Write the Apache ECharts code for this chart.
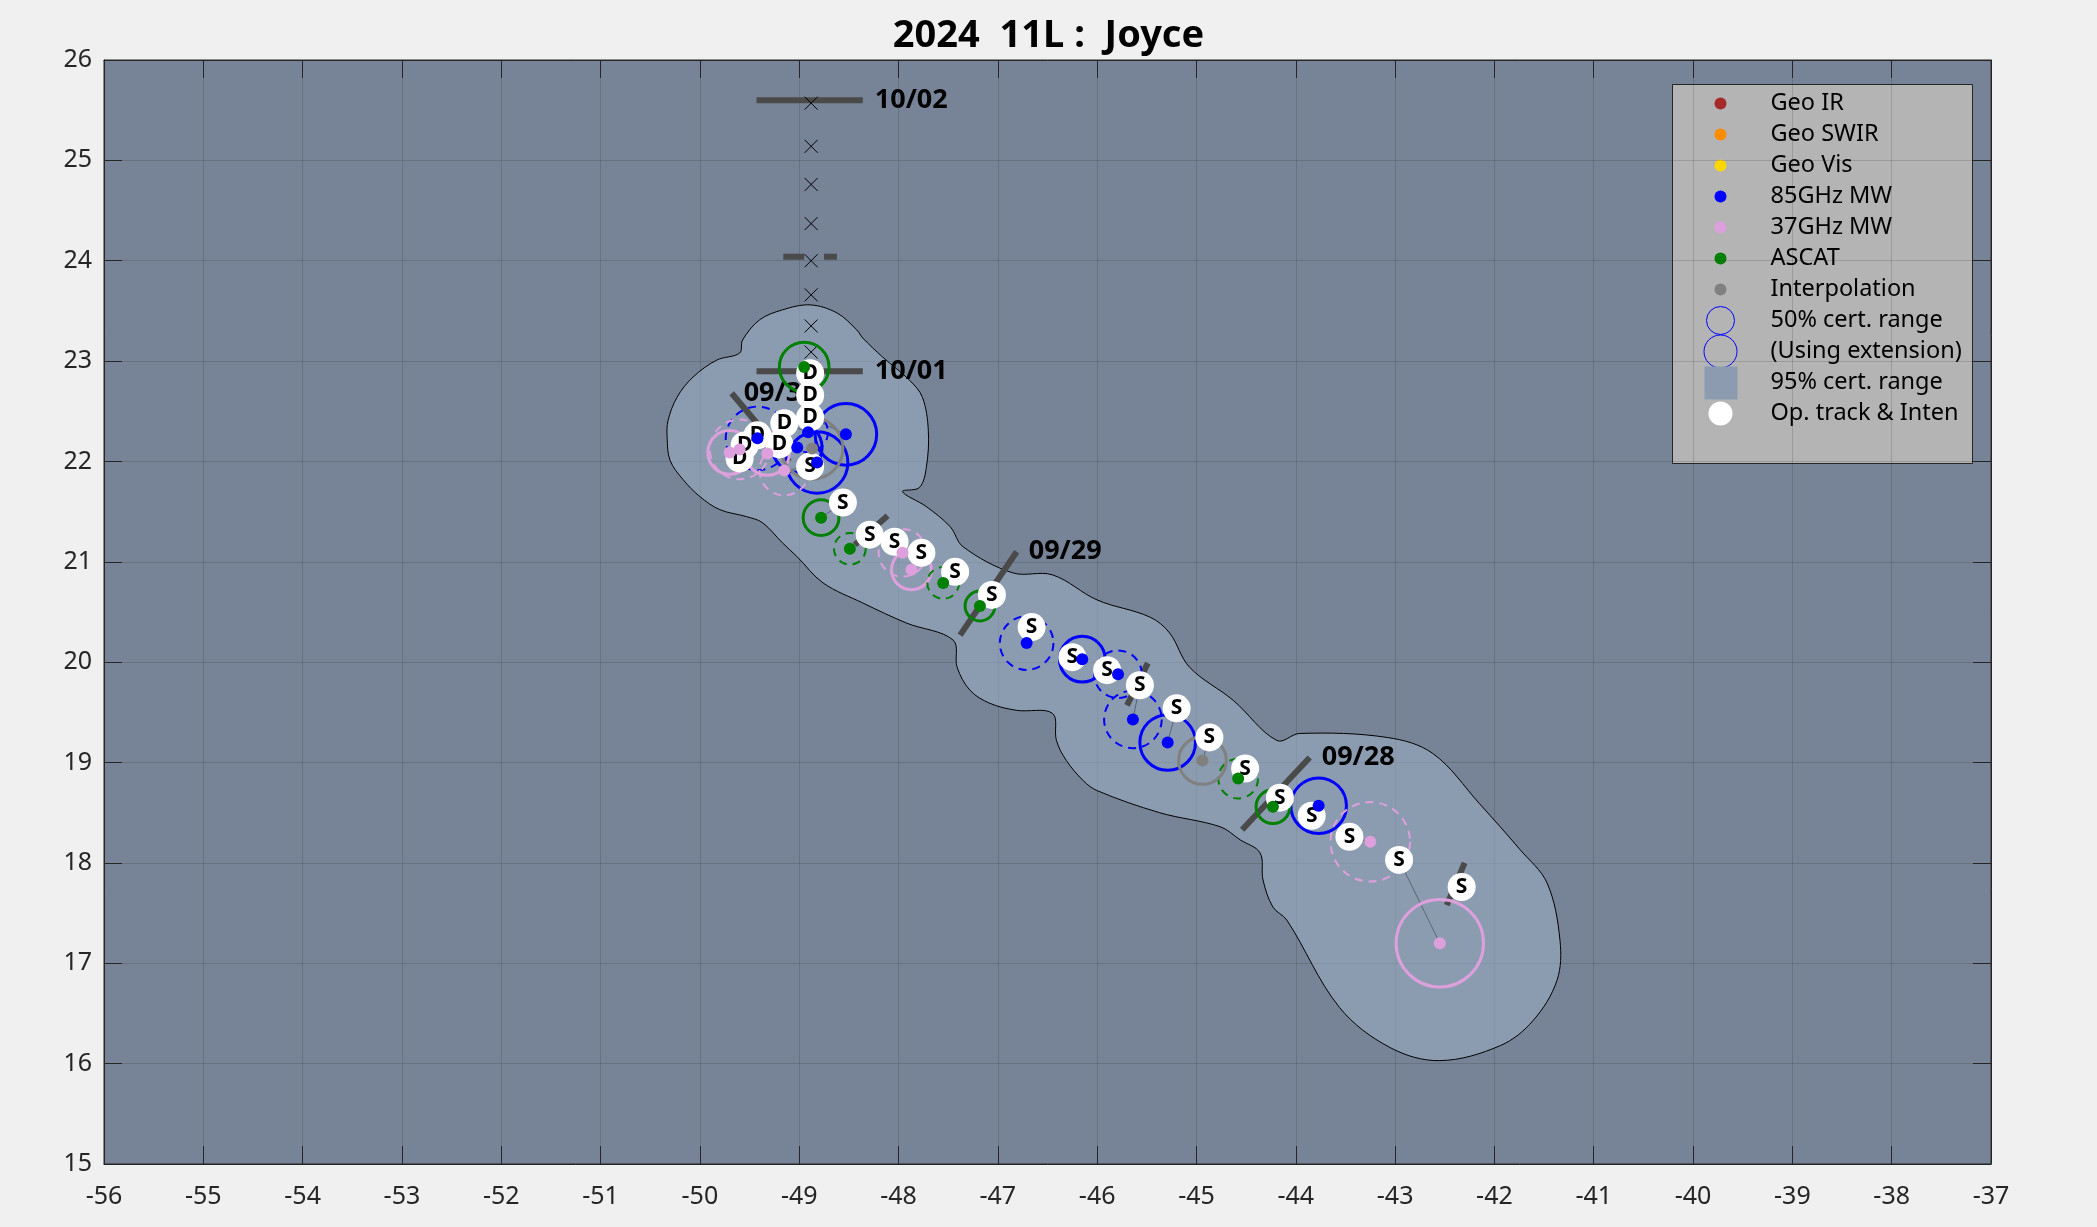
<!DOCTYPE html>
<html>
<head>
<meta charset="utf-8">
<title>2024 11L : Joyce</title>
<script src="https://cdn.jsdelivr.net/npm/echarts@6.0.0/dist/echarts.min.js"></script>
<style>
  html, body { margin: 0; padding: 0; background: #f0f0f0; }
  #chart { width: 2097px; height: 1227px; }
</style>
</head>
<body>
<div id="chart"></div>
<script>
// 95% certainty region outline [lon, lat]
const region95 = [
  [-48.89, 23.56], [-48.62, 23.48], [-48.42, 23.31], [-48.36, 23.23], [-48.16, 23.04], [-47.89, 22.81],
  [-47.76, 22.64], [-47.70, 22.31], [-47.72, 21.94], [-47.79, 21.74], [-47.96, 21.70], [-47.72, 21.55],
  [-47.48, 21.35], [-47.35, 21.15], [-46.85, 20.89], [-46.45, 20.87], [-46.00, 20.62], [-45.47, 20.45],
  [-45.27, 20.29], [-45.07, 19.95], [-44.63, 19.62], [-44.19, 19.22], [-43.96, 19.29], [-43.08, 19.25],
  [-42.62, 19.09], [-42.15, 18.59], [-41.74, 18.13], [-41.47, 17.80], [-41.34, 17.23], [-41.37, 16.83],
  [-41.61, 16.43], [-41.94, 16.18], [-42.55, 16.03], [-43.05, 16.16], [-43.56, 16.56], [-44.09, 17.43],
  [-44.23, 17.56], [-44.33, 17.83], [-44.36, 18.10], [-44.56, 18.23], [-44.76, 18.36], [-45.37, 18.50],
  [-46.00, 18.72], [-46.14, 18.82], [-46.31, 19.02], [-46.41, 19.22], [-46.45, 19.49], [-46.81, 19.52],
  [-47.08, 19.59], [-47.28, 19.72], [-47.41, 19.95], [-47.45, 20.22], [-47.92, 20.39], [-48.36, 20.59],
  [-48.76, 20.79], [-49.02, 21.05], [-49.17, 21.19], [-49.37, 21.39], [-49.53, 21.45], [-49.80, 21.52],
  [-50.00, 21.65], [-50.17, 21.82], [-50.30, 22.01], [-50.33, 22.24], [-50.32, 22.41], [-50.23, 22.64],
  [-50.07, 22.84], [-49.83, 23.01], [-49.60, 23.08], [-49.57, 23.21], [-49.40, 23.41], [-49.17, 23.51]
]

// operational track & intensity [lon, lat, class]
const opTrack = [
  [-42.33, 17.76, 'S'], [-42.96, 18.03, 'S'], [-43.46, 18.26, 'S'], [-43.84, 18.47, 'S'],
  [-44.16, 18.65, 'S'], [-44.51, 18.94, 'S'], [-44.87, 19.25, 'S'], [-45.20, 19.54, 'S'],
  [-45.57, 19.77, 'S'], [-45.90, 19.92, 'S'], [-46.25, 20.05, 'S'], [-46.66, 20.35, 'S'],
  [-47.06, 20.67, 'S'], [-47.43, 20.90, 'S'], [-47.77, 21.09, 'S'], [-48.04, 21.20, 'S'],
  [-48.29, 21.27, 'S'], [-48.56, 21.59, 'S'], [-48.89, 21.95, 'S'], [-49.20, 22.17, 'D'],
  [-49.60, 22.03, 'D'], [-49.55, 22.16, 'D'], [-49.42, 22.26, 'D'], [-49.15, 22.38, 'D'],
  [-48.89, 22.44, 'D'], [-48.89, 22.66, 'D'], [-48.89, 22.88, 'D']
]

// forecast positions (x marks)
const forecastPts = [
  [-48.88, 25.57], [-48.88, 25.14], [-48.88, 24.76], [-48.88, 24.37],
  [-48.88, 24.00], [-48.88, 23.66], [-48.88, 23.35], [-48.88, 23.09]
]

// date marks [lon1, lat1, lon2, lat2, label]; label sits at the first end
const dayBars = [
  [-43.86, 19.05, -44.54, 18.33, '09/28'],
  [-46.81, 21.10, -47.38, 20.27, '09/29'],
  [-49.68, 22.68, -49.10, 22.00, '09/30'],
  [-48.36, 22.90, -49.43, 22.90, '10/01'],
  [-48.36, 25.60, -49.43, 25.60, '10/02'],
  [-42.30, 18.00, -42.48, 17.58, ''],
  [-45.49, 19.99, -45.70, 19.57, ''],
  [-48.11, 21.46, -48.44, 21.17, ''],
  [-48.62, 24.04, -48.75, 24.04, ''],
  [-48.95, 24.04, -49.16, 24.04, '']
]

// fixes [lon, lat, radius (deg), extension 0/1, op track index]
const mw85Fixes = [
  [-43.77, 18.57, 0.28, 0, 3], [-45.29, 19.20, 0.28, 0, 7], [-45.64, 19.43, 0.29, 1, 8],
  [-45.79, 19.88, 0.24, 1, 9], [-46.15, 20.03, 0.23, 0, 10], [-46.71, 20.19, 0.27, 1, 11],
  [-48.82, 21.99, 0.31, 0, 18], [-49.02, 22.14, 0.25, 0, 19], [-49.42, 22.23, 0.32, 1, 22],
  [-48.91, 22.29, 0.20, 1, 23], [-48.53, 22.27, 0.31, 0, 24]
]
const mw37Fixes = [
  [-42.55, 17.20, 0.44, 0, 1], [-43.25, 18.21, 0.40, 1, 2], [-47.87, 20.92, 0.20, 0, 14],
  [-47.96, 21.09, 0.24, 1, 15], [-49.32, 22.08, 0.22, 0, 19], [-49.70, 22.09, 0.22, 0, 20],
  [-49.15, 21.91, 0.25, 1, 18], [-49.60, 22.12, 0.30, 1, 21]
]
const ascatFixes = [
  [-44.23, 18.56, 0.17, 0, 4], [-44.58, 18.84, 0.20, 1, 5], [-47.18, 20.56, 0.15, 0, 12],
  [-47.55, 20.79, 0.16, 1, 13], [-48.49, 21.13, 0.16, 1, 16], [-48.78, 21.44, 0.18, 0, 17],
  [-48.95, 22.94, 0.25, 0, 26]
]
const interpFixes = [
  [-44.94, 19.02, 0.24, 0, 6], [-48.87, 22.13, 0.31, 0, 18]
]

const legendNames = ['Geo IR', 'Geo SWIR', 'Geo Vis', '85GHz MW', '37GHz MW', 'ASCAT', 'Interpolation',
  '50% cert. range', '(Using extension)', '95% cert. range', 'Op. track & Inten']

const FONT = '"Noto Sans", sans-serif'
const fixTypes = [
  { fixes: mw85Fixes, color: '#0000ff' },
  { fixes: mw37Fixes, color: '#dda0dd' },
  { fixes: ascatFixes, color: '#008000' },
  { fixes: interpFixes, color: '#808080' }
]

const chart = echarts.init(document.getElementById('chart'))

const axisCommon = {
  type: 'value',
  axisLine: { show: true, onZero: false, lineStyle: { color: '#262626', width: 1 } },
  axisTick: { show: true, inside: true, length: 18, lineStyle: { color: '#262626' } }
}

const series = []

series.push({
  type: 'custom',
  silent: true,
  z: 1,
  data: [region95[0]],
  renderItem(params, api) {
    const pts = region95.map(p => api.coord(p))
    return {
      type: 'polygon',
      shape: { points: pts, smooth: 0.35 },
      style: { fill: 'rgba(161,179,201,0.5)', stroke: '#000', lineWidth: 1 }
    }
  }
})

// thin links from each fix to its op track point
const links = []
fixTypes.forEach(t => t.fixes.forEach(f => {
  const o = opTrack[f[4]]
  links.push([f[0], f[1], o[0], o[1]])
}))
series.push({
  type: 'custom',
  silent: true,
  z: 2,
  data: links,
  encode: { x: [0, 2], y: [1, 3] },
  renderItem(params, api) {
    const a = api.coord([api.value(0), api.value(1)])
    const b = api.coord([api.value(2), api.value(3)])
    return {
      type: 'line',
      shape: { x1: a[0], y1: a[1], x2: b[0], y2: b[1] },
      style: { stroke: 'rgba(50,55,65,0.55)', lineWidth: 1 }
    }
  }
})

series.push({
  type: 'custom',
  silent: true,
  z: 3,
  data: dayBars.map(b => b.slice(0, 4)),
  encode: { x: [0, 2], y: [1, 3] },
  renderItem(params, api) {
    const a = api.coord([api.value(0), api.value(1)])
    const b = api.coord([api.value(2), api.value(3)])
    const label = dayBars[params.dataIndex][4]
    const children = [{
      type: 'line',
      shape: { x1: a[0], y1: a[1], x2: b[0], y2: b[1] },
      style: { stroke: '#4a4a4a', lineWidth: 6 }
    }]
    if (label) {
      children.push({
        type: 'text',
        x: a[0] + 12,
        y: a[1],
        style: {
          text: label, fill: '#000', font: 'bold 27px ' + FONT,
          textAlign: 'left', textVerticalAlign: 'middle'
        }
      })
    }
    return { type: 'group', children }
  }
})

series.push({
  type: 'custom',
  silent: true,
  z: 3,
  data: forecastPts,
  renderItem(params, api) {
    const c = api.coord([api.value(0), api.value(1)])
    const h = 6.5
    return {
      type: 'group',
      children: [
        { type: 'line', shape: { x1: c[0] - h, y1: c[1] - h, x2: c[0] + h, y2: c[1] + h }, style: { stroke: '#000', lineWidth: 1 } },
        { type: 'line', shape: { x1: c[0] - h, y1: c[1] + h, x2: c[0] + h, y2: c[1] - h }, style: { stroke: '#000', lineWidth: 1 } }
      ]
    }
  }
})

fixTypes.forEach(t => {
  series.push({
    type: 'custom',
    silent: true,
    z: 4,
    data: t.fixes,
    renderItem(params, api) {
      const c = api.coord([api.value(0), api.value(1)])
      const r = api.size([api.value(2), 0])[0]
      const ext = api.value(3) === 1
      return {
        type: 'circle',
        shape: { cx: c[0], cy: c[1], r },
        style: {
          fill: 'none', stroke: t.color,
          lineWidth: ext ? 2 : 3,
          lineDash: ext ? [8, 6] : null
        }
      }
    }
  })
})

series.push({
  type: 'scatter',
  silent: true,
  z: 5,
  symbolSize: 28,
  itemStyle: { color: '#fff', opacity: 1 },
  label: {
    show: true, position: 'inside', formatter: '{b}',
    color: '#000', fontSize: 21, fontWeight: 'bold', fontFamily: FONT
  },
  data: opTrack.map(p => ({ name: p[2], value: [p[0], p[1]] }))
})

fixTypes.forEach(t => {
  series.push({
    type: 'scatter',
    silent: true,
    z: 6,
    symbolSize: 12,
    itemStyle: { color: t.color, opacity: 1 },
    data: t.fixes.map(f => [f[0], f[1]])
  })
})

// legend box
const dotColors = ['#a52a2a', '#ff8c00', '#ffd700', '#0000ff', '#dda0dd', '#008000', '#808080']
const legendChildren = [{
  type: 'rect',
  shape: { x: 0, y: 0, width: 300, height: 379 },
  style: { fill: '#b4b4b4', stroke: '#262626', lineWidth: 1 }
}]
legendNames.forEach((name, i) => {
  const cy = 19 + 31 * i
  let icon
  if (i < 7) {
    icon = { type: 'circle', shape: { cx: 48, cy, r: 6 }, style: { fill: dotColors[i] } }
  } else if (i === 7) {
    icon = { type: 'circle', shape: { cx: 48, cy, r: 14 }, style: { fill: 'none', stroke: '#0000ff', lineWidth: 1 } }
  } else if (i === 8) {
    icon = { type: 'circle', shape: { cx: 48, cy, r: 16.5 }, style: { fill: 'none', stroke: '#0000ff', lineWidth: 1 } }
  } else if (i === 9) {
    icon = { type: 'rect', shape: { x: 32, y: cy - 16, width: 33, height: 33 }, style: { fill: '#8c9bb0' } }
  } else {
    icon = { type: 'circle', shape: { cx: 48, cy, r: 12 }, style: { fill: '#fff' } }
  }
  legendChildren.push(icon)
  legendChildren.push({
    type: 'text', x: 98, y: cy,
    style: { text: name, fill: '#000', font: '23.5px ' + FONT, textVerticalAlign: 'middle' }
  })
})

chart.setOption({
  backgroundColor: '#f0f0f0',
  animation: false,
  title: {
    text: '2024  11L :  Joyce',
    left: 'center',
    top: 12,
    textStyle: { fontSize: 38, fontWeight: 'bold', color: '#000', fontFamily: FONT }
  },
  grid: {
    left: 104, right: 106, top: 60, bottom: 63,
    show: true, backgroundColor: '#778497', borderColor: '#262626', borderWidth: 1
  },
  xAxis: [
    Object.assign({}, axisCommon, {
      position: 'bottom', min: -56, max: -37, interval: 1,
      axisLabel: { fontSize: 25, color: '#262626', fontFamily: FONT, margin: 20 },
      splitLine: { show: true, lineStyle: { color: 'rgba(38,38,38,0.18)', width: 1 } }
    }),
    Object.assign({}, axisCommon, {
      position: 'top', min: -56, max: -37, interval: 1,
      axisLabel: { show: false }, splitLine: { show: false }
    })
  ],
  yAxis: [
    Object.assign({}, axisCommon, {
      position: 'left', min: 15, max: 26, interval: 1,
      axisLabel: { fontSize: 25, color: '#262626', fontFamily: FONT, margin: 12 },
      splitLine: { show: true, lineStyle: { color: 'rgba(38,38,38,0.18)', width: 1 } }
    }),
    Object.assign({}, axisCommon, {
      position: 'right', min: 15, max: 26, interval: 1,
      axisLabel: { show: false }, splitLine: { show: false }
    })
  ],
  graphic: [{ type: 'group', left: 1672, top: 84, z: 100, children: legendChildren }],
  series
})
</script>
</body>
</html>
